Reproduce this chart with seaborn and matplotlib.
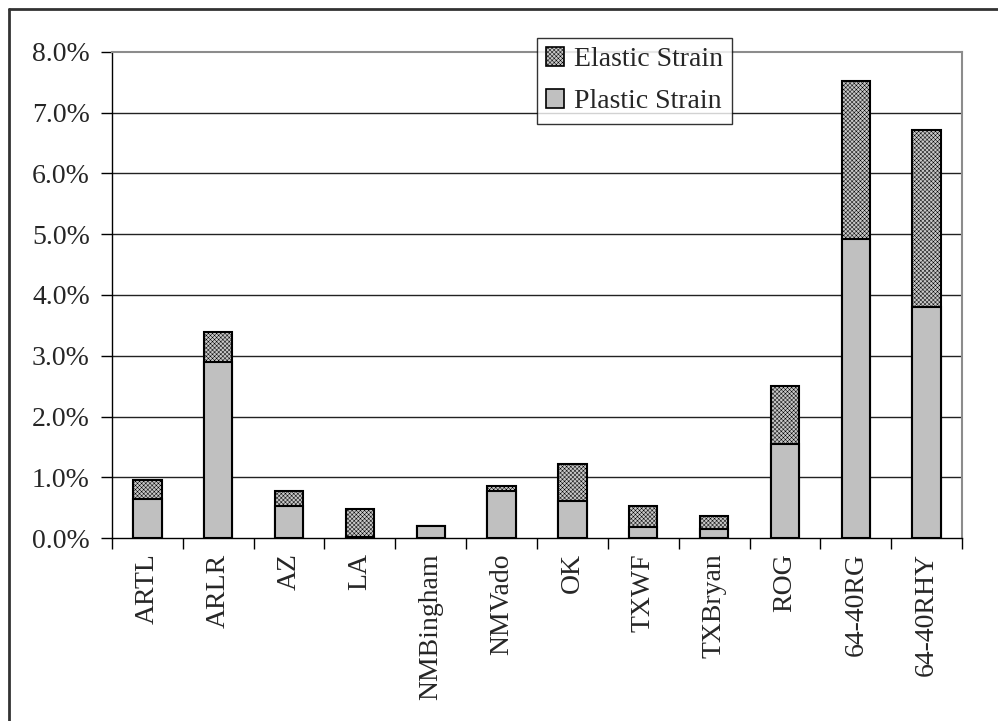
import matplotlib
matplotlib.use("Agg")
import matplotlib.pyplot as plt
from matplotlib.patches import Patch
from matplotlib.lines import Line2D
import seaborn as sns
import pandas as pd

# Strain per mixture, in percent
mixtures = ["ARTL", "ARLR", "AZ", "LA", "NMBingham", "NMVado", "OK",
            "TXWF", "TXBryan", "ROG", "64-40RG", "64-40RHY"]
plastic_strain = [0.64, 2.89, 0.52, 0.02, 0.19, 0.78, 0.61, 0.18, 0.15, 1.54, 4.92, 3.81]
elastic_strain = [0.31, 0.50, 0.26, 0.46, 0.00, 0.08, 0.61, 0.34, 0.21, 0.96, 2.61, 2.91]
y_ticks = [0, 1, 2, 3, 4, 5, 6, 7, 8]

df = pd.DataFrame({"mixture": mixtures,
                   "plastic": plastic_strain,
                   "elastic": elastic_strain})
df["total"] = df["plastic"] + df["elastic"]

sns.set_theme(style="white")
plt.rcParams["font.family"] = ["Liberation Serif", "DejaVu Serif"]
plt.rcParams["hatch.linewidth"] = 0.35
plt.rcParams["hatch.color"] = "#7a7a7a"

fig = plt.figure(figsize=(9.98, 7.21), dpi=100)
ax = fig.add_axes([0.1122, 0.2538, 0.964 - 0.1122, 0.9279 - 0.2538])

bar_w = 0.4
elastic_style = dict(facecolor="#c8c8c8", hatch="xxxxxxxx", edgecolor="black", linewidth=1.5)
plastic_style = dict(facecolor="#c0c0c0", edgecolor="black", linewidth=1.5)

# Stacked bars: full height drawn with the elastic pattern, plastic part on top of it
sns.barplot(data=df, x="mixture", y="total", ax=ax, width=bar_w,
            color="#c8c8c8", errorbar=None, zorder=3)
n_el = len(ax.patches)
sns.barplot(data=df, x="mixture", y="plastic", ax=ax, width=bar_w,
            color="#c0c0c0", errorbar=None, zorder=4)
for i, p in enumerate(ax.patches):
    if i < n_el:
        p.set_facecolor(elastic_style["facecolor"])
        p.set_hatch(elastic_style["hatch"])
        p.set_edgecolor("black")
        p.set_linewidth(1.5)
    else:
        p.set_facecolor(plastic_style["facecolor"])
        p.set_edgecolor("black")
        p.set_linewidth(1.5)
        if p.get_height() <= 0:
            p.set_visible(False)

ax.set_xlim(-0.5, len(mixtures) - 0.5)
ax.set_ylim(0, 8)
ax.set_yticks(y_ticks)
ax.set_yticklabels([f"{v:.1f}%" for v in y_ticks])
ax.set_xlabel("")
ax.set_ylabel("")

# Horizontal gridlines
for v in y_ticks[1:-1]:
    ax.axhline(v, color="#222222", linewidth=1.0, zorder=1)

for side in ["top", "right"]:
    ax.spines[side].set_color("#8c8c8c")
    ax.spines[side].set_linewidth(1.5)
for side in ["left", "bottom"]:
    ax.spines[side].set_color("black")
    ax.spines[side].set_linewidth(1.0)

ax.tick_params(axis="y", which="major", direction="out", length=8, width=1.0,
               color="black", labelsize=20, pad=8, left=True)
ax.set_xticks(range(len(mixtures)))
ax.set_xticklabels(mixtures, rotation=90, fontsize=20)
ax.tick_params(axis="x", which="major", length=0, pad=11)
ax.set_xticks([i - 0.5 for i in range(len(mixtures) + 1)], minor=True)
ax.tick_params(axis="x", which="minor", direction="out", length=8, width=1.0,
               color="black", bottom=True)

handles = [Patch(**elastic_style, label="Elastic Strain"),
           Patch(**plastic_style, label="Plastic Strain")]
for h in handles:
    h.set_linewidth(1.2)
leg = fig.legend(handles=handles, loc="upper left",
                 bbox_to_anchor=(537 / 998, 1 - 38 / 721),
                 fontsize=20, frameon=True, fancybox=False,
                 handlelength=0.65, handleheight=0.65, handletextpad=0.35,
                 labelspacing=0.62, borderpad=0.33, borderaxespad=0)
leg.get_frame().set_edgecolor("black")
leg.get_frame().set_linewidth(1.0)
leg.set_zorder(10)

# Outer chart frame
fig.add_artist(Line2D([9 / 998, 9 / 998], [0, 1 - 9 / 721], transform=fig.transFigure,
                      color="#333333", linewidth=2))
fig.add_artist(Line2D([9 / 998, 1], [1 - 9 / 721, 1 - 9 / 721], transform=fig.transFigure,
                      color="#333333", linewidth=2))

fig.savefig("out.png", dpi=100)
